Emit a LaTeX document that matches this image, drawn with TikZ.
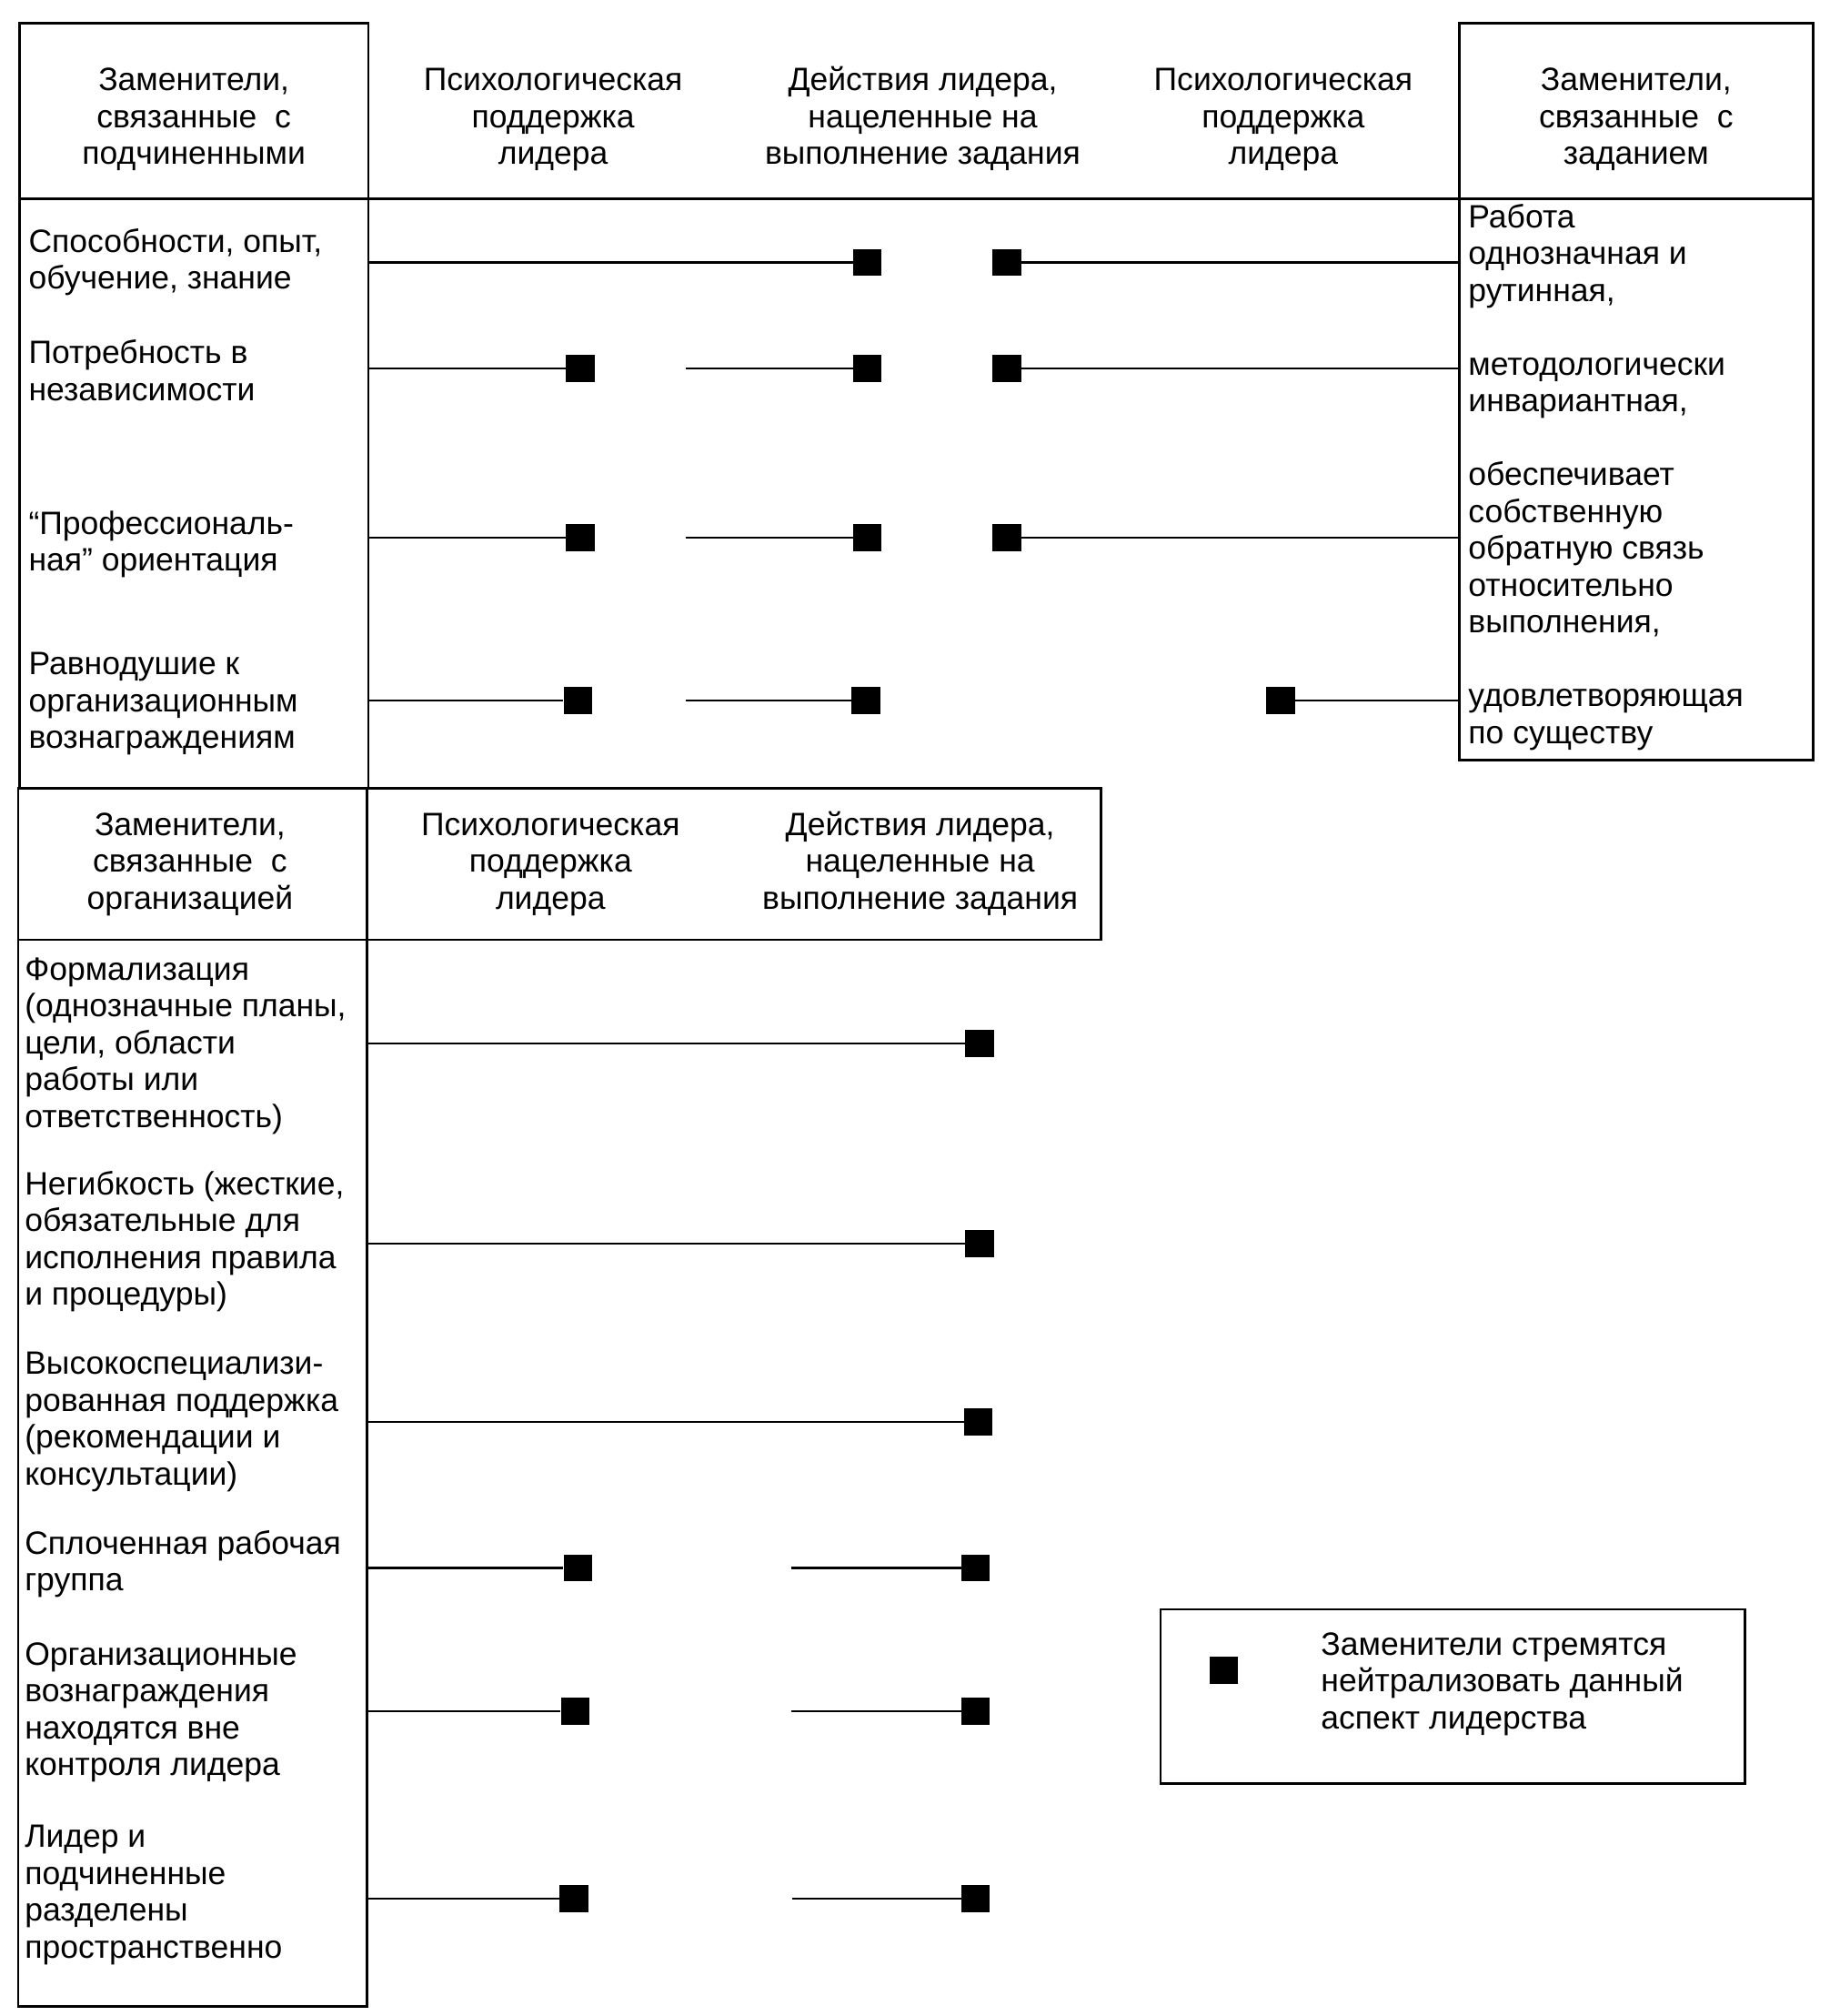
\documentclass[tikz,border=0pt]{standalone}
\usepackage{fontspec}
\setmainfont{Liberation Sans}
\newcommand\fnt{\fontsize{25}{28.5}\selectfont}
\newcommand\st{\rule{0pt}{22pt}}
\begin{document}
\begin{tikzpicture}[x=1pt,y=-1pt,
  box/.style={line width=1.9pt},
  conn/.style={line width=1.5pt},
  sq/.style={fill=black, draw=none, inner sep=0pt, minimum width=22pt, minimum height=21pt},
  lbl/.style={anchor=north west, inner sep=0pt, align=left, font=\fnt},
  hdr/.style={anchor=north, inner sep=0pt, align=center, font=\fnt}]
\useasboundingbox (0,0) rectangle (1416,1559.6);

% ---- frames ----
\draw[box] (15,18) rectangle (285,610);
\draw[box] (15,154) -- (1403,154);
\draw[box] (1129,18) rectangle (1403,588);
\draw[box] (14,610) rectangle (852,727);
\draw[box] (284,610) -- (284,1552);
\draw[box] (14,727) rectangle (284,1552);

% ---- top headers ----
\node[hdr] (h1) at (150,48) {\st Заменители,\\связанные \ с\\подчиненными};
\node[hdr] (h2) at (428,48) {\st Психологическая\\поддержка\\лидера};
\node[hdr] (h3) at (714,48) {\st Действия лидера,\\нацеленные на\\выполнение задания};
\node[hdr] (h4) at (993,48) {\st Психологическая\\поддержка\\лидера};
\node[hdr] (h5) at (1266,48) {\st Заменители,\\связанные \ с\\заданием};

% ---- top left labels ----
\node[lbl] (l1) at (22,173) {\st Способности, опыт,\\обучение, знание};
\node[lbl] (l2) at (22,259) {\st Потребность в\\независимости};
\node[lbl] (l3) at (22,391) {\st “Профессиональ-\\ная” ориентация};
\node[lbl] (l4) at (22,500) {\st Равнодушие к\\организационным\\вознаграждениям};

% ---- right box text ----
\node[lbl] (rt) at (1136,154) {\st Работа\\однозначная и\\рутинная,\\[28.5pt]методологически\\инвариантная,\\[28.5pt]обеспечивает\\собственную\\обратную связь\\относительно\\выполнения,\\[28.5pt]удовлетворяющая\\по существу};

% ---- top connectors ----
\coordinate (a1s) at (285,203);
\node[sq] (a1t) at (671,203) {};
\node[sq] (a1r) at (779,203) {};
\coordinate (a1e) at (1129,203);
\draw[conn] (a1s) -- (a1t.west);
\draw[conn] (a1r.east) -- (a1e);

\coordinate (a2s) at (285,285);
\node[sq] (a2p) at (449,285) {};
\coordinate (a2g) at (531,285);
\node[sq] (a2t) at (671,285) {};
\node[sq] (a2r) at (779,285) {};
\coordinate (a2e) at (1129,285);
\draw[conn] (a2s) -- (a2p.west);
\draw[conn] (a2g) -- (a2t.west);
\draw[conn] (a2r.east) -- (a2e);

\coordinate (a3s) at (285,416);
\node[sq] (a3p) at (449,416) {};
\coordinate (a3g) at (531,416);
\node[sq] (a3t) at (671,416) {};
\node[sq] (a3r) at (779,416) {};
\coordinate (a3e) at (1129,416);
\draw[conn] (a3s) -- (a3p.west);
\draw[conn] (a3g) -- (a3t.west);
\draw[conn] (a3r.east) -- (a3e);

\coordinate (a4s) at (285,542);
\node[sq] (a4p) at (447,542) {};
\coordinate (a4g) at (531,542);
\node[sq] (a4t) at (670,542) {};
\node[sq] (a4r) at (991,542) {};
\coordinate (a4e) at (1129,542);
\draw[conn] (a4s) -- (a4p.west);
\draw[conn] (a4g) -- (a4t.west);
\draw[conn] (a4r.east) -- (a4e);

% ---- lower headers ----
\node[hdr] (g1) at (147,624) {\st Заменители,\\связанные \ с\\организацией};
\node[hdr] (g2) at (426,624) {\st Психологическая\\поддержка\\лидера};
\node[hdr] (g3) at (712,624) {\st Действия лидера,\\нацеленные на\\выполнение задания};

% ---- lower labels ----
\node[lbl] (m1) at (19,736) {\st Формализация\\(однозначные планы,\\цели, области\\работы или\\ответственность)};
\node[lbl] (m2) at (19,902) {\st Негибкость (жесткие,\\обязательные для\\исполнения правила\\и процедуры)};
\node[lbl] (m3) at (19,1041) {\st Высокоспециализи-\\рованная поддержка\\(рекомендации и\\консультации)};
\node[lbl] (m4) at (19,1180) {\st Сплоченная рабочая\\группа};
\node[lbl] (m5) at (19,1266) {\st Организационные\\вознаграждения\\находятся вне\\контроля лидера};
\node[lbl] (m6) at (19,1407) {\st Лидер и\\подчиненные\\разделены\\пространственно};

% ---- lower connectors ----
\coordinate (b1s) at (284,807);
\node[sq] (b1t) at (758,807) {};
\draw[conn] (b1s) -- (b1t.west);

\coordinate (b2s) at (284,962);
\node[sq] (b2t) at (758,962) {};
\draw[conn] (b2s) -- (b2t.west);

\coordinate (b3s) at (284,1100);
\node[sq] (b3t) at (757,1100) {};
\draw[conn] (b3s) -- (b3t.west);

\coordinate (b4s) at (284,1213);
\node[sq] (b4p) at (447,1213) {};
\coordinate (b4g) at (612,1213);
\node[sq] (b4t) at (755,1213) {};
\draw[conn] (b4s) -- (b4p.west);
\draw[conn] (b4g) -- (b4t.west);

\coordinate (b5s) at (284,1324);
\node[sq] (b5p) at (445,1324) {};
\coordinate (b5g) at (612,1324);
\node[sq] (b5t) at (755,1324) {};
\draw[conn] (b5s) -- (b5p.west);
\draw[conn] (b5g) -- (b5t.west);

\coordinate (b6s) at (284,1469);
\node[sq] (b6p) at (444,1469) {};
\coordinate (b6g) at (613,1469);
\node[sq] (b6t) at (755,1469) {};
\draw[conn] (b6s) -- (b6p.west);
\draw[conn] (b6g) -- (b6t.west);

% ---- legend ----
\draw[box] (898,1245) rectangle (1350,1380);
\node[sq] (lgsq) at (947,1292) {};
\node[lbl] (lgt) at (1022,1258) {\st Заменители стремятся\\нейтрализовать данный\\аспект лидерства};
\end{tikzpicture}
\end{document}
